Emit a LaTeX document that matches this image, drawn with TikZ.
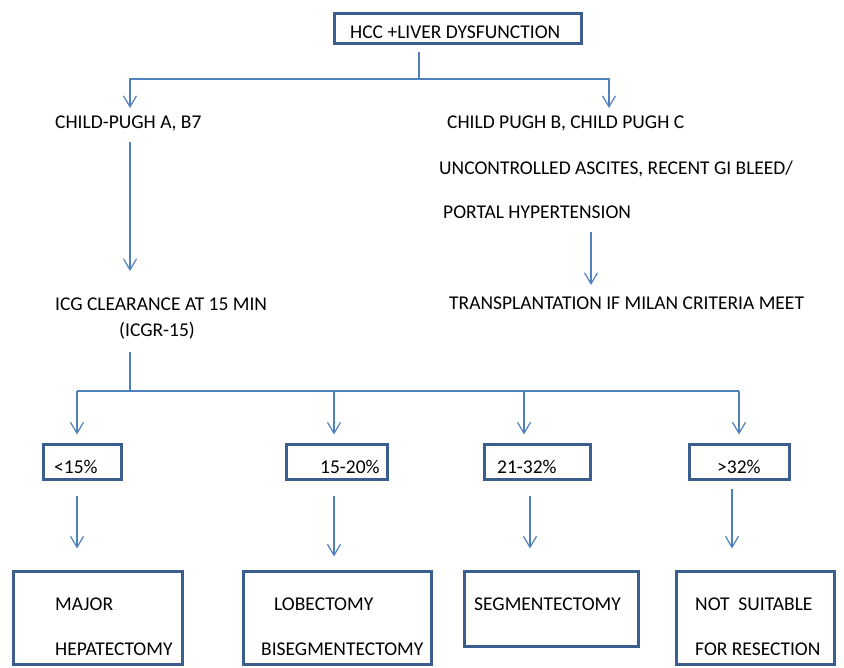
\documentclass[tikz,border=0pt]{standalone}
\usepackage{fontspec}
\setmainfont{Carlito}
\usetikzlibrary{arrows.meta,calc}
\definecolor{boxc}{HTML}{3A5F8E}
\definecolor{linec}{HTML}{4F81BD}
\begin{document}
\begin{tikzpicture}[x=1pt,y=-1pt,
  box/.style={draw=boxc,line width=3pt,inner sep=0pt},
  txt/.style={inner sep=0pt,anchor=base west,font=\fontsize{19.5}{23}\selectfont},
  ln/.style={draw=linec,line width=1.2pt},
  arr/.style={ln,-{Straight Barb[length=11pt,width=13pt]}}]
\useasboundingbox (0,0) rectangle (844,668);
% boxes
\node[box,minimum width=247pt,minimum height=30pt] (top) at (458,28.5) {};
\node[box,minimum width=78pt,minimum height=35pt] (s1) at (82.5,462) {};
\node[box,minimum width=101pt,minimum height=35pt] (s2) at (337,462) {};
\node[box,minimum width=106pt,minimum height=35pt] (s3) at (537.5,462) {};
\node[box,minimum width=100pt,minimum height=35pt] (s4) at (739.5,462) {};
\node[box,minimum width=169pt,minimum height=93pt] (b1) at (98,618) {};
\node[box,minimum width=188pt,minimum height=93pt] (b2) at (337.5,618) {};
\node[box,minimum width=174pt,minimum height=75pt] (b3) at (551.5,609) {};
\node[box,minimum width=158pt,minimum height=93pt] (b4) at (755.5,618) {};
% texts
\node[txt] (topt) at (350,39) {HCC +LIVER DYSFUNCTION};
\node[txt] (cpA) at (55,129) {CHILD-PUGH A, B7};
\node[txt] (cpB) at (447,129) {CHILD PUGH B, CHILD PUGH C};
\node[txt] (unc) at (439,175) {UNCONTROLLED ASCITES, RECENT GI BLEED/};
\node[txt] (por) at (443,219) {PORTAL HYPERTENSION};
\node[txt] (trn) at (449,310) {TRANSPLANTATION IF MILAN CRITERIA MEET};
\node[txt] (icg) at (55,311) {ICG CLEARANCE AT 15 MIN};
\node[txt] (icr) at (119,337) {(ICGR-15)};
\node[txt] (t1) at (54,473) {<15\%};
\node[txt] (t2) at (320,473) {15-20\%};
\node[txt] (t3) at (497,473) {21-32\%};
\node[txt] (t4) at (717,473) {>32\%};
\node[txt] (u1a) at (55,610) {MAJOR};
\node[txt] (u1b) at (55,655) {HEPATECTOMY};
\node[txt] (u2a) at (274,610) {LOBECTOMY};
\node[txt] (u2b) at (261,655) {BISEGMENTECTOMY};
\node[txt] (u3a) at (474,610) {SEGMENTECTOMY};
\node[txt] (u4a) at (695,610) {NOT\ \ SUITABLE};
\node[txt] (u4b) at (695,655) {FOR RESECTION};
% junctions
\coordinate (j1) at (419,79);
\coordinate (tA) at (130,108);
\coordinate (tB) at (609,108);
\coordinate (j2) at (130,391);
\coordinate (h1) at (77,391);
\coordinate (h2) at (334,391);
\coordinate (h3) at (524,391);
\coordinate (h4) at (739,391);
\coordinate (v3) at (530,0);
\coordinate (v4) at (732,0);
\coordinate (vR) at (591,0);
% connectors
\draw[ln] (top.south -| j1) ++(0,7) -- (j1);
\draw[arr] (j1) -| (tA);
\draw[arr] (j1) -| (tB);
\draw[arr] ($(cpA.base -| tA)+(0,13)$) -- ($(icg.base -| tA)+(0,-40)$);
\draw[arr] ($(por.base -| vR)+(0,13)$) -- ($(trn.base -| vR)+(0,-25)$);
\draw[ln] ($(icr.base -| j2)+(0,15)$) -- (j2);
\draw[ln] (h1) -- (h4);
\draw[arr] (h1) -- ($(s1.north -| h1)+(0,-8.5)$);
\draw[arr] (h2) -- ($(s2.north -| h2)+(0,-8.5)$);
\draw[arr] (h3) -- ($(s3.north -| h3)+(0,-8.5)$);
\draw[arr] (h4) -- ($(s4.north -| h4)+(0,-8.5)$);
\draw[arr] ($(s1.south -| h1)+(0,14.5)$) -- ($(b1.north -| h1)+(0,-21.5)$);
\draw[arr] ($(s2.south -| h2)+(0,14.5)$) -- ($(b2.north -| h2)+(0,-13.5)$);
\draw[arr] ($(s3.south -| v3)+(0,14.5)$) -- ($(b3.north -| v3)+(0,-21.5)$);
\draw[arr] ($(s4.south -| v4)+(0,7.5)$) -- ($(b4.north -| v4)+(0,-21.5)$);
\end{tikzpicture}
\end{document}
